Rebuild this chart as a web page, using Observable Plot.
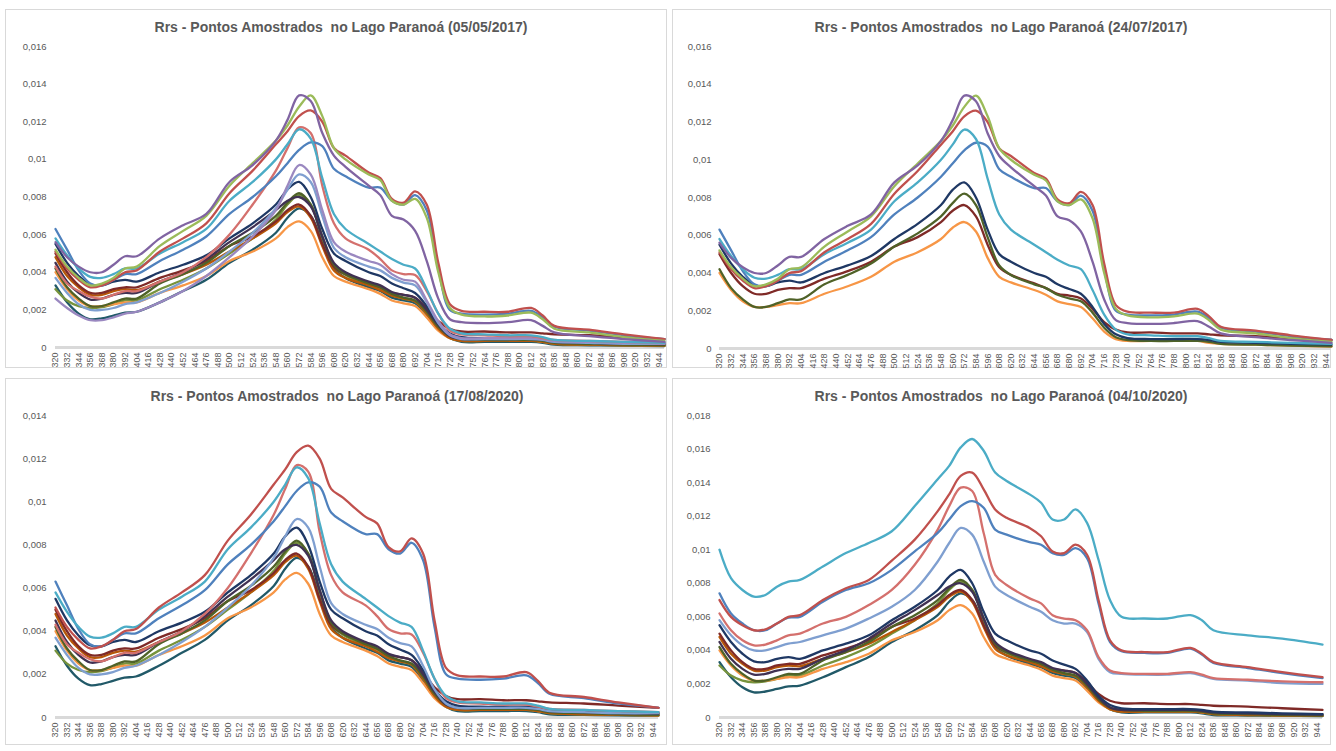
<!DOCTYPE html>
<html><head><meta charset="utf-8">
<script src="https://cdn.jsdelivr.net/npm/d3@7"></script>
<script src="https://cdn.jsdelivr.net/npm/@observablehq/plot@0.6"></script>
<style>
body{margin:0;background:#fff;font-family:"Liberation Sans",Arial,sans-serif}
#wrap{position:relative;width:1336px;height:751px;overflow:hidden;background:#fff}
.frame{position:absolute;border:1px solid #D9D9D9;box-sizing:border-box}
.title{position:absolute;font-weight:bold;font-size:14px;line-height:16px;color:#595959;white-space:pre;transform:translateX(-50%)}
.chart{position:absolute}
</style></head><body><div id="wrap"></div>
<script>
// wavelengths (nm) at which the curves were read
const wavelengths = [320,332,344,356,368,380,392,404,428,452,476,500,524,548,560,572,584,596,608,620,644,656,668,680,692,704,716,728,740,764,788,812,824,836,872,908,950];
// Rrs values in units of 0.001 sr^-1
const P  = [5.6,4.8,4.3,4.0,4.0,4.4,4.85,4.85,5.8,6.5,7.1,8.8,9.7,11.0,12.1,13.4,13.1,11.4,10.2,9.6,8.6,8.1,7.0,6.8,6.2,4.6,2.6,1.5,1.35,1.3,1.35,1.45,1.15,0.8,0.6,0.45,0.3];
const G  = [5.2,4.3,3.7,3.3,3.4,3.7,4.2,4.3,5.4,6.2,7.0,8.6,9.8,11.0,11.8,12.8,13.4,12.3,10.6,10.0,9.2,8.9,7.8,7.6,7.9,6.9,4.0,2.1,1.75,1.65,1.7,1.85,1.5,1.0,0.8,0.55,0.35];
const R  = [5.1,4.2,3.6,3.2,3.3,3.6,4.0,4.1,5.1,5.8,6.6,8.2,9.4,10.8,11.5,12.3,12.6,12.0,10.6,10.2,9.3,9.0,7.9,7.7,8.3,7.6,4.5,2.3,1.95,1.9,1.9,2.1,1.7,1.15,0.95,0.7,0.45];
const PK = [4.3,3.4,3.0,2.7,2.6,2.8,3.0,3.0,3.5,4.0,4.8,6.0,7.6,9.4,10.6,11.7,11.4,8.6,6.6,5.8,5.2,4.7,4.1,3.9,3.85,3.0,1.8,0.9,0.7,0.65,0.6,0.6,0.5,0.4,0.35,0.3,0.25];
const A  = [5.8,4.9,4.2,3.75,3.7,3.9,4.2,4.2,5.0,5.6,6.3,7.8,8.8,10.0,10.8,11.6,11.1,9.0,7.1,6.3,5.5,5.1,4.7,4.4,4.2,3.1,1.8,1.0,0.75,0.7,0.65,0.65,0.55,0.4,0.35,0.3,0.25];
const B  = [6.3,5.2,4.1,3.4,3.3,3.6,3.9,3.9,4.6,5.2,5.9,7.1,8.0,9.1,9.8,10.5,10.9,10.7,9.5,9.1,8.5,8.5,7.8,7.6,8.1,7.3,4.2,2.0,1.8,1.75,1.8,1.95,1.6,1.1,0.9,0.65,0.45];
const LP = [2.6,2.1,1.7,1.45,1.45,1.6,1.8,1.9,2.4,3.0,3.8,4.8,5.9,7.3,8.6,9.7,9.2,7.3,5.6,5.1,4.6,4.4,3.9,3.6,3.5,2.5,1.4,0.7,0.5,0.5,0.5,0.5,0.45,0.35,0.3,0.25,0.2];
const LB = [3.7,2.9,2.3,2.0,2.0,2.1,2.3,2.4,2.9,3.5,4.2,5.1,6.1,7.4,8.4,9.2,8.8,7.0,5.3,4.8,4.3,4.1,3.7,3.45,3.3,2.4,1.3,0.65,0.45,0.45,0.45,0.45,0.4,0.3,0.25,0.2,0.2];
const N  = [5.5,4.5,3.8,3.35,3.3,3.5,3.6,3.5,4.0,4.4,4.9,5.8,6.6,7.6,8.4,8.8,8.0,6.3,5.0,4.6,4.0,3.8,3.4,3.15,2.9,2.2,1.3,0.75,0.55,0.5,0.5,0.5,0.45,0.35,0.3,0.25,0.2];
const DG = [4.2,3.2,2.6,2.2,2.2,2.4,2.6,2.6,3.4,3.9,4.5,5.4,6.1,7.0,7.7,8.2,7.6,5.9,4.4,3.9,3.4,3.2,2.85,2.65,2.5,1.9,1.1,0.6,0.45,0.4,0.4,0.4,0.35,0.25,0.2,0.15,0.12];
const LG = [3.1,2.5,2.2,2.1,2.15,2.3,2.5,2.5,3.1,3.6,4.2,5.0,5.8,6.8,7.6,8.1,7.6,5.8,4.3,3.85,3.35,3.15,2.8,2.6,2.45,1.8,1.05,0.5,0.35,0.35,0.35,0.35,0.3,0.2,0.15,0.12,0.1];
const M  = [5.0,4.0,3.3,2.9,2.9,3.1,3.2,3.2,3.7,4.1,4.6,5.4,5.9,6.7,7.3,7.6,7.0,5.5,4.3,3.9,3.45,3.2,2.9,2.8,2.65,2.1,1.4,1.0,0.85,0.85,0.8,0.8,0.75,0.7,0.65,0.55,0.45];
const BR = [4.8,3.8,3.2,2.8,2.8,3.0,3.1,3.05,3.5,3.9,4.4,5.1,5.8,6.6,7.2,7.5,6.9,5.4,4.1,3.7,3.3,3.05,2.75,2.6,2.45,1.8,1.0,0.5,0.35,0.35,0.35,0.35,0.3,0.2,0.15,0.12,0.1];
const O  = [4.0,3.1,2.5,2.2,2.2,2.3,2.4,2.4,2.9,3.3,3.8,4.6,5.1,5.8,6.4,6.7,6.2,4.8,3.8,3.5,3.1,2.85,2.5,2.35,2.2,1.6,0.9,0.5,0.4,0.4,0.4,0.4,0.3,0.25,0.2,0.15,0.1];
const DT = [3.3,2.4,1.8,1.5,1.55,1.7,1.85,1.9,2.4,3.0,3.6,4.5,5.2,6.1,6.9,7.4,7.0,5.6,4.2,3.7,3.2,3.0,2.65,2.5,2.35,1.7,1.0,0.5,0.3,0.3,0.3,0.3,0.25,0.15,0.12,0.1,0.08];
const DP = [4.5,3.5,2.9,2.55,2.6,2.8,2.9,2.9,3.5,4.0,4.7,5.6,6.4,7.3,7.8,8.0,7.5,5.9,4.5,4.0,3.5,3.3,2.95,2.8,2.65,2.0,1.2,0.6,0.45,0.45,0.45,0.45,0.4,0.3,0.25,0.2,0.18];
// curves only seen on 04/10/2020
const A4  = [10.0,8.3,7.6,7.2,7.3,7.8,8.1,8.2,9.0,9.8,10.4,11.1,12.6,14.2,15.0,16.1,16.6,15.9,14.6,14.1,13.3,12.8,11.8,11.8,12.4,11.6,9.4,7.0,6.0,5.9,5.9,6.1,5.8,5.2,4.9,4.7,4.35];
const R4  = [7.0,6.0,5.5,5.2,5.25,5.6,6.0,6.1,7.0,7.7,8.2,9.35,10.6,12.3,13.3,14.4,14.6,13.6,12.4,11.9,11.3,10.8,9.9,9.8,10.3,9.7,7.0,4.6,4.0,3.9,3.9,4.15,3.8,3.3,3.0,2.7,2.4];
const B4  = [7.4,6.2,5.6,5.2,5.2,5.6,5.95,6.0,6.9,7.6,8.0,8.8,9.9,11.0,11.8,12.6,12.9,12.5,11.2,10.9,10.45,10.3,9.8,9.7,10.1,9.5,6.8,4.5,3.95,3.85,3.85,4.1,3.75,3.25,2.95,2.65,2.35];
const PK4 = [6.2,5.2,4.6,4.3,4.35,4.6,4.9,5.0,5.6,6.0,6.7,7.6,9.1,11.2,12.6,13.7,13.5,11.0,8.5,7.9,7.1,6.8,6.1,5.9,5.8,5.2,3.6,2.8,2.65,2.6,2.6,2.7,2.55,2.35,2.25,2.15,2.1];
const LB4 = [5.8,4.9,4.3,4.0,4.0,4.2,4.4,4.5,4.9,5.3,5.9,6.6,7.6,9.3,10.4,11.3,10.9,9.3,7.8,7.3,6.6,6.3,5.8,5.6,5.6,5.1,3.5,2.7,2.6,2.55,2.55,2.65,2.5,2.3,2.2,2.05,2.0];

const seriesValues = {P, G, R, PK, A, B, LP, LB, N, DG, LG, M, BR, O, DT, DP, A4, R4, B4, PK4, LB4};
const seriesColors = {P:"#8064A2", G:"#9BBB59", R:"#C0504D", PK:"#D4706D", A:"#4BACC6", B:"#4F81BD",
  LP:"#9A88C0", LB:"#7F9FD0", N:"#1F3864", DG:"#4F6228", LG:"#77933C", M:"#7F2A27", BR:"#B65708",
  O:"#F79646", DT:"#215968", DP:"#403152", A4:"#4BACC6", R4:"#C0504D", B4:"#4F81BD", PK4:"#D4706D", LB4:"#7F9FD0"};

const titles = [
  "Rrs - Pontos Amostrados  no Lago Paranoá (05/05/2017)",
  "Rrs - Pontos Amostrados  no Lago Paranoá (24/07/2017)",
  "Rrs - Pontos Amostrados  no Lago Paranoá (17/08/2020)",
  "Rrs - Pontos Amostrados  no Lago Paranoá (04/10/2020)"
];
const panelSeries = [
  ["DT","LG","O","BR","M","DG","DP","N","LB","LP","PK","B","A","R","G","P"],
  ["O","M","DG","N","B","A","R","G","P"],
  ["DT","LG","O","BR","M","DG","DP","N","LB","PK","B","A","R"],
  ["DT","LG","O","BR","M","DG","DP","N","LB4","PK4","B4","R4","A4"]
];
const xTicks = [320,332,344,356,368,380,392,404,416,428,440,452,464,476,488,500,512,524,536,548,560,572,584,596,608,620,632,644,656,668,680,692,704,716,728,740,752,764,776,788,800,812,824,836,848,860,872,884,896,908,920,932,944];
const yTicks16 = [0,2,4,6,8,10,12,14,16];
const yLabels16 = ["0","0,002","0,004","0,006","0,008","0,01","0,012","0,014","0,016"];
const yTicks14 = [0,2,4,6,8,10,12,14];
const yLabels14 = ["0","0,002","0,004","0,006","0,008","0,01","0,012","0,014"];
const yTicks18 = [0,2,4,6,8,10,12,14,16,18];
const yLabels18 = ["0","0,002","0,004","0,006","0,008","0,01","0,012","0,014","0,016","0,018"];

// layout of the four panels
const layout = [
  {left:0,   top:0,   h:375, ml:55, mr:4,  mt:46, mb:28, ymax:16, ticks:yTicks16, labels:yLabels16, pad:9, frame:[5,9,662,359],  tx:341,  ty:19},
  {left:668, top:0,   h:375, ml:51, mr:5,  mt:46, mb:27, ymax:16, ticks:yTicks16, labels:yLabels16, pad:8, frame:[672,9,659,359], tx:1001, ty:19},
  {left:0,   top:375, h:376, ml:55, mr:10, mt:40, mb:34, ymax:14, ticks:yTicks14, labels:yLabels14, pad:9, frame:[5,378,662,367], tx:337,  ty:388},
  {left:668, top:375, h:376, ml:51, mr:14, mt:40, mb:34, ymax:18, ticks:yTicks18, labels:yLabels18, pad:9, frame:[672,378,659,367], tx:1001, ty:388}
];

const wrap = document.getElementById("wrap");
layout.forEach((L, i) => {
  const fr = document.createElement("div");
  fr.className = "frame";
  Object.assign(fr.style, {left:L.frame[0]+"px", top:L.frame[1]+"px", width:L.frame[2]+"px", height:L.frame[3]+"px"});
  wrap.appendChild(fr);

  const rows = [];
  for (const s of panelSeries[i]) {
    const vals = seriesValues[s];
    wavelengths.forEach((w, j) => rows.push({series: s, wl: w, v: vals[j]}));
  }
  const labelMap = new Map(L.ticks.map((t, k) => [t, L.labels[k]]));
  const lines = panelSeries[i].map(s => Plot.line(rows.filter(r => r.series === s), {
    x: "wl", y: "v", stroke: seriesColors[s], strokeWidth: 2.3, curve: "catmull-rom",
    strokeLinejoin: "round", strokeLinecap: "round"
  }));
  const chart = Plot.plot({
    width: 668, height: L.h,
    marginLeft: L.ml, marginRight: L.mr, marginTop: L.mt, marginBottom: L.mb,
    x: {domain: [320, 950]},
    y: {domain: [0, L.ymax]},
    style: {fontFamily: "'Liberation Sans', Arial, sans-serif", color: "#595959", background: "transparent", overflow: "visible"},
    marks: [
      Plot.ruleY([0], {stroke: "#D9D9D9", strokeWidth: 3}),
      Plot.axisY({ticks: L.ticks, tickFormat: d => labelMap.get(d), tickSize: 0, tickPadding: L.pad, fontSize: 9.5, label: null}),
      Plot.axisX({ticks: xTicks, tickFormat: d => String(d), tickRotate: -90, tickSize: 0, tickPadding: 5, fontSize: 9, label: null}),
      ...lines
    ]
  });
  chart.classList.add("chart");
  chart.style.left = L.left + "px";
  chart.style.top = L.top + "px";
  wrap.appendChild(chart);

  const t = document.createElement("div");
  t.className = "title";
  t.textContent = titles[i];
  t.style.left = L.tx + "px";
  t.style.top = L.ty + "px";
  wrap.appendChild(t);
});
</script></body></html>
